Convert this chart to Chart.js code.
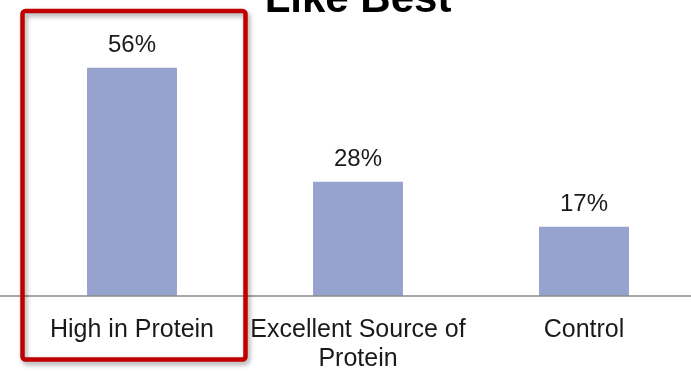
<!DOCTYPE html>
<html>
<head>
<meta charset="utf-8">
<script src="https://cdn.jsdelivr.net/npm/chart.js@4/dist/chart.umd.min.js"></script>
<style>
  html, body { margin: 0; padding: 0; background: #fff; overflow: hidden; }
  #wrap { position: relative; width: 691px; height: 371px; overflow: hidden; }
  #chart { position: absolute; left: 0; top: -40px; }
</style>
</head>
<body>
<div id="wrap"><canvas id="chart" width="720" height="434"></canvas></div>
<script>
// Preference shares by claim
const categories = [["High in Protein"], ["Excellent Source of", "Protein"], ["Control"]];
const likeBest = [56, 28, 17];
const valueLabels = ["56%", "28%", "17%"];
const highlightIndex = 0;

const FONT = "'Liberation Sans', Arial, sans-serif";

// Baseline drawn across the full width of the page
const baselinePlugin = {
  id: 'baseline',
  afterDatasetsDraw(chart) {
    const { ctx } = chart;
    const y = chart.scales.y.getPixelForValue(0);
    ctx.save();
    ctx.strokeStyle = '#8a8a8a';
    ctx.lineWidth = 1.5;
    ctx.beginPath();
    ctx.moveTo(0, y);
    ctx.lineTo(chart.width, y);
    ctx.stroke();
    ctx.restore();
  }
};

// Percent labels above each bar
const valueLabelPlugin = {
  id: 'valueLabels',
  afterDatasetsDraw(chart) {
    const { ctx } = chart;
    const meta = chart.getDatasetMeta(0);
    ctx.save();
    ctx.font = `24px ${FONT}`;
    ctx.fillStyle = '#1a1a1a';
    ctx.textAlign = 'center';
    ctx.textBaseline = 'alphabetic';
    meta.data.forEach((bar, i) => {
      ctx.fillText(valueLabels[i], bar.x, bar.y - 16);
    });
    ctx.restore();
  }
};

// Red frame around the highlighted category
const highlightPlugin = {
  id: 'highlight',
  afterDraw(chart) {
    const { ctx } = chart;
    const x = chart.scales.x;
    const c = x.getPixelForValue(highlightIndex);
    const half = (x.getPixelForValue(1) - x.getPixelForValue(0)) / 2;
    const left = c - half + 3.5, right = c + half + 0.5;
    const top = 51, bottom = 399.5;
    ctx.save();
    ctx.strokeStyle = '#c00000';
    ctx.lineWidth = 4.5;
    ctx.shadowColor = 'rgba(0,0,0,0.35)';
    ctx.shadowBlur = 5;
    ctx.shadowOffsetX = 2;
    ctx.shadowOffsetY = 3;
    ctx.beginPath();
    ctx.roundRect(left, top, right - left, bottom - top, 3);
    ctx.stroke();
    ctx.restore();
  }
};

new Chart(document.getElementById('chart'), {
  type: 'bar',
  data: {
    labels: categories,
    datasets: [{
      data: likeBest,
      backgroundColor: '#96a3cf',
      borderWidth: 0,
      barPercentage: 0.398,
      categoryPercentage: 1
    }]
  },
  options: {
    responsive: false,
    animation: false,
    layout: { padding: { left: 19, right: 23, top: 0, bottom: 0 } },
    plugins: {
      legend: { display: false },
      tooltip: { enabled: false },
      title: {
        display: true,
        text: 'Like Best',
        color: '#000',
        font: { family: FONT, size: 42, weight: 'bold', lineHeight: 1.2 },
        padding: { top: 15, bottom: 26 }
      }
    },
    scales: {
      x: {
        grid: { display: false, drawTicks: false },
        border: { display: false },
        ticks: {
          color: '#1a1a1a',
          font: { family: FONT, size: 25, lineHeight: '29px' },
          padding: 20,
          maxRotation: 0,
          autoSkip: false
        }
      },
      y: {
        display: false,
        min: 0,
        max: 60
      }
    }
  },
  plugins: [baselinePlugin, valueLabelPlugin, highlightPlugin]
});
</script>
</body>
</html>
